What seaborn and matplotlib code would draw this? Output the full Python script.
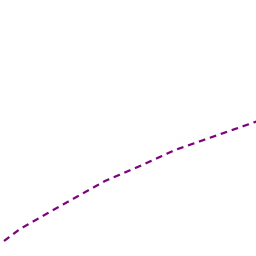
import pandas as pd
import seaborn as sns
import matplotlib.pyplot as plt

# Values
x_vals = [4, 20, 55, 105, 140, 175, 215, 258]
y_vals = [15, 27, 47, 75, 90, 106, 120, 135]

df = pd.DataFrame({"x": x_vals, "y": y_vals})

sns.set_style("white")
fig = plt.figure(figsize=(2.56, 2.56), dpi=100)
ax = fig.add_axes([0, 0, 1, 1])
sns.lineplot(data=df, x="x", y="y", ax=ax, color="#800080",
             linewidth=1.6, linestyle=(0, (3, 2.2)))
ax.set_xlim(0, 256)
ax.set_ylim(0, 256)
ax.axis("off")
fig.savefig("out.png", dpi=100)
